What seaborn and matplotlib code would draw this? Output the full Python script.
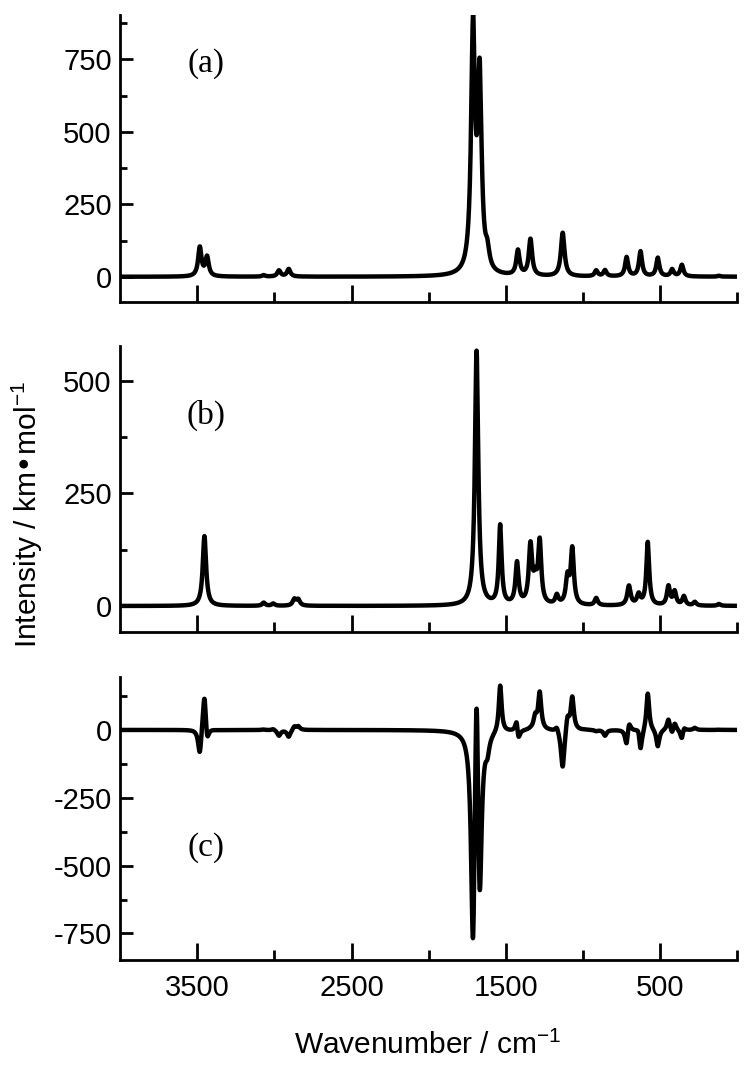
"""Calculated IR spectra (a), (b) and their difference (c)"""

import matplotlib
matplotlib.use("Agg")
import matplotlib.pyplot as plt
import numpy as np
import pandas as pd
import seaborn as sns
from matplotlib.ticker import FixedLocator

# stick spectra: position / cm-1, height / km mol-1, half width / cm-1
a_pos = [3483, 3436, 3069, 2970, 2907, 1713, 1670, 1620, 1422, 1341, 1132,
         915, 858, 718, 628, 516, 423, 360, 120]
a_height = [100, 66, 5, 21, 26, 830, 660, 55, 86, 126, 150,
            20, 21, 66, 86, 64, 24, 40, 3]
a_hwhm = [13, 13, 12, 13, 13, 15, 15, 15, 13, 13, 14,
          12, 12, 12, 12, 12, 12, 12, 12]

b_pos = [3453, 3069, 3007, 2870, 2845, 1690, 1537, 1428, 1341, 1310, 1281,
         1170, 1101, 1070, 915, 703, 640, 581, 447, 407, 347, 276, 120]
b_height = [155, 7, 5, 14, 13, 565, 175, 92, 128, 45, 136,
            20, 58, 122, 16, 43, 23, 140, 42, 30, 20, 8, 4]
b_hwhm = [13, 12, 12, 13, 13, 13, 11, 12, 13, 13, 12,
          12, 13, 12, 12, 13, 13, 11, 12, 12, 12, 12, 12]

x_major = [3500, 2500, 1500, 500]
x_minor = [3000, 2000, 1000, 0]
panels = ["(a)", "(b)", "(c)"]


def broaden(pos, height, hwhm, grid):
    """Lorentzian broadening of a stick spectrum"""
    y = np.zeros_like(grid)
    for p, h, g in zip(pos, height, hwhm):
        y += h / (1 + ((grid - p) / g) ** 2)
    return y


wn = np.arange(0, 4001, 1.0)
df = pd.DataFrame({"wn": wn})
df["a"] = broaden(a_pos, a_height, a_hwhm, wn)
df["b"] = broaden(b_pos, b_height, b_hwhm, wn)
df["c"] = df["b"] - df["a"]

sns.set_style("ticks")
plt.rcParams["font.family"] = ["Liberation Sans", "DejaVu Sans"]
plt.rcParams["mathtext.default"] = "regular"
plt.rcParams["axes.unicode_minus"] = False
for k in ["text.color", "axes.labelcolor", "xtick.color", "ytick.color", "axes.edgecolor"]:
    plt.rcParams[k] = "black"

fig = plt.figure(figsize=(7.5, 10.71), dpi=100)
boxes = [[0.16, 0.7183, 0.8233, 0.2677],
         [0.16, 0.4102, 0.8233, 0.2668],
         [0.16, 0.1036, 0.8233, 0.2640]]
ylims = [(-86, 903), (-57, 577), (-848, 194)]
y_major = [[0, 250, 500, 750], [0, 250, 500], [0, -250, -500, -750]]
y_minor = [[125, 375, 625, 875], [125, 375], [125, -125, -375, -625]]
label_y = [0.829, 0.758, 0.396]

for i, col in enumerate(["a", "b", "c"]):
    ax = fig.add_axes(boxes[i])
    sns.lineplot(data=df, x="wn", y=col, ax=ax, color="black",
                 linewidth=3.2, estimator=None)
    ax.set_xlim(4000, 0)
    ax.set_ylim(*ylims[i])
    sns.despine(ax=ax)
    for s in ["left", "bottom"]:
        ax.spines[s].set_linewidth(2)
    ax.xaxis.set_major_locator(FixedLocator(x_major))
    ax.xaxis.set_minor_locator(FixedLocator(x_minor))
    ax.yaxis.set_major_locator(FixedLocator(y_major[i]))
    ax.yaxis.set_minor_locator(FixedLocator(y_minor[i]))
    ax.tick_params(axis="x", which="major", direction="in", length=12, width=2,
                   labelsize=21, pad=10)
    ax.tick_params(axis="x", which="minor", direction="in", length=7, width=2)
    ax.tick_params(axis="y", which="major", direction="in", length=9.5, width=2,
                   labelsize=21, pad=6)
    ax.tick_params(axis="y", which="minor", direction="in", length=5, width=2)
    if i < 2:
        ax.tick_params(axis="x", labelbottom=False)
    ax.set_xlabel("")
    ax.set_ylabel("")
    ax.text(0.139, label_y[i], panels[i], transform=ax.transAxes,
            fontsize=24, family="Liberation Serif", ha="center", va="center")

fig.text(0.571, 0.024, "Wavenumber / cm$^{-1}$", fontsize=21.5,
         ha="center", va="center")
fig.text(0.036, 0.395, "Intensity / km\u2022mol$^{-1}$", fontsize=21.5,
         rotation=90, ha="center", va="bottom")

fig.savefig("out.png", dpi=100)
